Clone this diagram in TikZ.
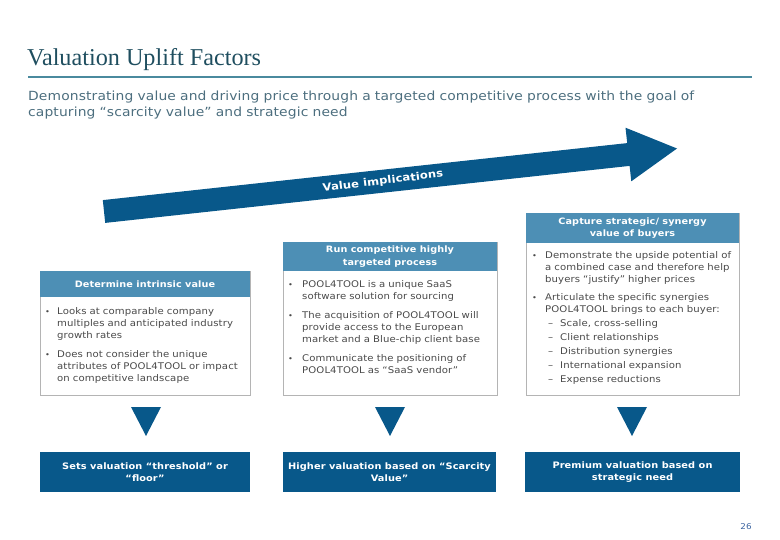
\documentclass[tikz,border=0pt]{standalone}
\usepackage{fontspec}
\setmainfont{Liberation Serif}
\newfontfamily\vf{DejaVu Sans}[FakeStretch=1.1, LetterSpace=1]
\definecolor{titlec}{HTML}{1F4E5F}
\definecolor{linec}{HTML}{4A8A9E}
\definecolor{subc}{HTML}{4C6E7E}
\definecolor{dblue}{HTML}{08588A}
\definecolor{hblue}{HTML}{4D8FB5}
\definecolor{bodyc}{HTML}{4A4A4A}
\definecolor{boxline}{HTML}{B4B4B4}
\definecolor{pagec}{HTML}{3C64A0}
\tikzset{
  hdr/.style={fill=hblue, text=white, font=\vf\bfseries\fontsize{8.8}{12.5}\selectfont, align=center, inner sep=0},
  outbox/.style={fill=dblue, text=white, font=\vf\bfseries\fontsize{8.9}{12}\selectfont, align=center, inner sep=0, minimum height=40pt},
  bodybox/.style={draw=boxline, line width=0.8pt, fill=white},
  bodytxt/.style={anchor=base west, inner sep=0, text width=200pt, align=left, font=\vf\fontsize{9.2}{12}\selectfont, text=bodyc},
  bul/.style={anchor=base west, inner sep=0, font=\vf\fontsize{7.5}{12}\selectfont, text=bodyc},
  tri/.style={fill=dblue}
}
\begin{document}
\begin{tikzpicture}[x=1pt,y=-1pt]
\useasboundingbox (0,0) rectangle (780,540);
% title
\node[anchor=base west, inner sep=0, font=\fontsize{24.2}{26}\selectfont, text=titlec] (title) at (27,66) {Valuation Uplift Factors};
\coordinate (tl1) at (28,77.5);
\coordinate (tl2) at (752,77.5);
\draw[line width=2pt, linec] (tl1) -- (tl2);
\node[anchor=base west, inner sep=0, text width=730pt, align=left, font=\vf\fontsize{12.6}{16}\selectfont, text=subc] (sub) at (28,101) {Demonstrating value and driving price through a targeted competitive process with the goal of\\capturing “scarcity value” and strategic need};
% big arrow
\fill[dblue] (102.8,200.1) -- (627.2,143.1) -- (625.5,127.7) -- (677,148.5) -- (631.3,181.3) -- (629.6,165.9) -- (105.2,222.9) -- cycle;
\node[rotate=7, inner sep=0, font=\vf\bfseries\fontsize{10.5}{12}\selectfont, text=white] (vi) at (383,181.5) {Value implications};
% box bodies
\node[bodybox, anchor=north west, minimum width=210pt, minimum height=124pt, inner sep=0] (bb1) at (40,271) {};
\node[bodybox, anchor=north west, minimum width=214pt, minimum height=153pt, inner sep=0] (bb2) at (283,242) {};
\node[bodybox, anchor=north west, minimum width=213pt, minimum height=182pt, inner sep=0] (bb3) at (526,213) {};
% headers
\node[hdr, minimum width=210pt, minimum height=26pt] (h1) at (145,284) {Determine intrinsic value};
\node[hdr, minimum width=214pt, minimum height=29pt] (h2) at (390,256.5) {Run competitive highly\\targeted process};
\node[hdr, minimum width=213pt, minimum height=30pt] (h3) at (632.5,228) {Capture strategic/ synergy\\value of buyers};
% box 1 text
\node[bul] (d1a) at (45,314.5) {•};
\node[bodytxt] (t1a) at (57,314.5) {Looks at comparable company\\multiples and anticipated industry\\growth rates};
\node[bul] (d1b) at (45,357.5) {•};
\node[bodytxt] (t1b) at (57,357.5) {Does not consider the unique\\attributes of POOL4TOOL or impact\\on competitive landscape};
% box 2 text
\node[bul] (d2a) at (288,287.5) {•};
\node[bodytxt] (t2a) at (302,287.5) {POOL4TOOL is a unique SaaS\\software solution for sourcing};
\node[bul] (d2b) at (288,318.5) {•};
\node[bodytxt] (t2b) at (302,318.5) {The acquisition of POOL4TOOL will\\provide access to the European\\market and a Blue-chip client base};
\node[bul] (d2c) at (288,361.5) {•};
\node[bodytxt] (t2c) at (302,361.5) {Communicate the positioning of\\POOL4TOOL as “SaaS vendor”};
% box 3 text
\node[bul] (d3a) at (532,258.5) {•};
\node[bodytxt] (t3a) at (545,258.5) {Demonstrate the upside potential of\\a combined case and therefore help\\buyers “justify” higher prices};
\node[bul] (d3b) at (532,300.5) {•};
\node[bodytxt] (t3b) at (545,300.5) {Articulate the specific synergies\\POOL4TOOL brings to each buyer:};
\node[bodytxt] (s1d) at (548,326.5) {–};
\node[bodytxt] (s1) at (560,326.5) {Scale, cross-selling};
\node[bodytxt] (s2d) at (548,340.5) {–};
\node[bodytxt] (s2) at (560,340.5) {Client relationships};
\node[bodytxt] (s3d) at (548,354.5) {–};
\node[bodytxt] (s3) at (560,354.5) {Distribution synergies};
\node[bodytxt] (s4d) at (548,368.5) {–};
\node[bodytxt] (s4) at (560,368.5) {International expansion};
\node[bodytxt] (s5d) at (548,382.5) {–};
\node[bodytxt] (s5) at (560,382.5) {Expense reductions};
% triangles
\fill[tri] (131,407) -- (161,407) -- (146,436) -- cycle;
\fill[tri] (375,407) -- (405,407) -- (390,436) -- cycle;
\fill[tri] (617,407) -- (647,407) -- (632,436) -- cycle;
% outcome boxes
\node[outbox, minimum width=210pt] (o1) at (145,472) {Sets valuation “threshold” or\\“floor”};
\node[outbox, minimum width=213pt] (o2) at (389.5,472) {Higher valuation based on “Scarcity\\Value”};
\node[outbox, minimum width=215pt] (o3) at (632.5,472) {Premium valuation based on\\strategic need};
% page number
\node[inner sep=0, font=\vf\fontsize{8}{10}\selectfont, text=pagec] (pg) at (746,527) {26};
\end{tikzpicture}
\end{document}
